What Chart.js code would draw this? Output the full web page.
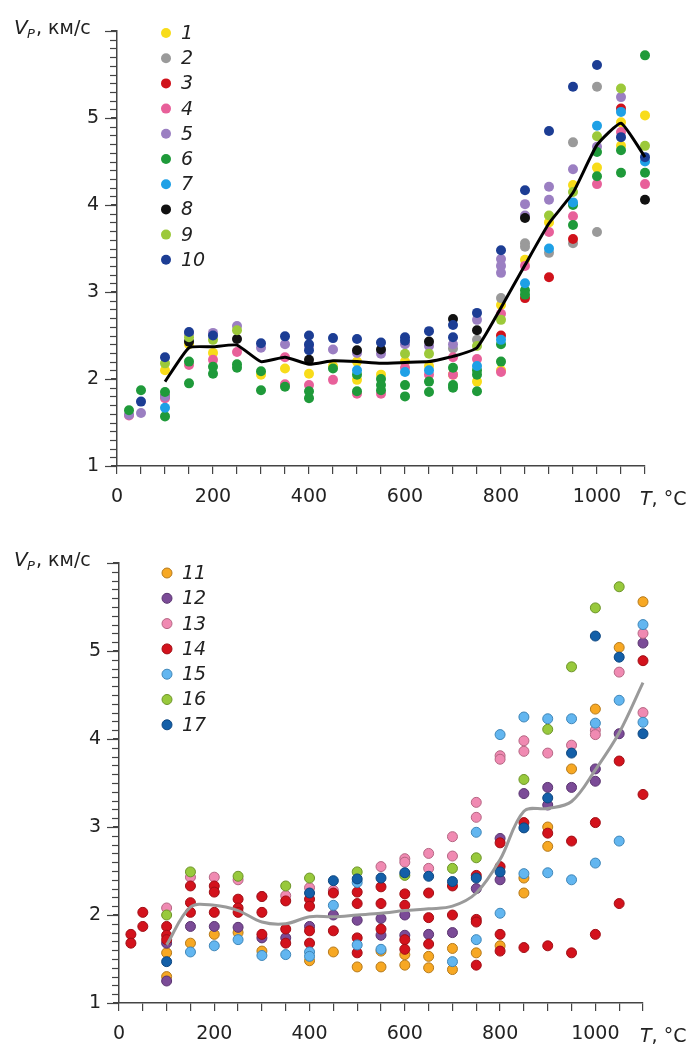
<!DOCTYPE html>
<html><head><meta charset="utf-8">
<script src="https://cdn.jsdelivr.net/npm/chart.js@4.4.0/dist/chart.umd.min.js"></script>
<style>html,body{margin:0;padding:0;background:#fff;}canvas{position:absolute;left:0;display:block;}</style>
</head><body>
<canvas id="c1" width="695" height="524" style="top:0"></canvas>
<canvas id="c2" width="695" height="524" style="top:524px"></canvas>
<script>
// ---------- DATA: top panel (samples 1–10), points are [T °C, Vp km/s] ----------
const S1 = [[100,2.10],[150,2.40],[200,2.30],[300,2.05],[350,2.12],[400,2.06],[450,2.15],[500,1.99],[500,2.20],[550,2.05],[600,2.20],[650,2.15],[700,2.05],[750,1.97],[800,2.10],[800,2.85],[850,3.37],[900,3.80],[950,4.23],[1000,4.43],[1050,4.68],[1050,4.95],[1100,5.03]];
const S2 = [[700,2.35],[750,2.45],[800,2.93],[850,3.56],[850,3.52],[900,3.45],[950,4.72],[950,3.56],[1000,5.36],[1000,3.69]];
const S3 = [[100,1.80],[800,2.50],[850,2.93],[900,3.17],[950,3.61],[1050,5.11]];
const S4 = [[25,1.58],[100,1.78],[150,2.16],[200,2.22],[250,2.31],[350,1.94],[350,2.25],[400,1.93],[450,1.99],[500,1.83],[550,1.83],[600,2.13],[650,2.05],[700,2.25],[700,2.05],[750,2.23],[800,2.08],[800,2.75],[850,3.30],[900,3.69],[950,3.87],[1000,4.24],[1050,4.84],[1100,4.24]];
const S5 = [[25,1.59],[50,1.61],[100,1.80],[150,2.52],[200,2.53],[250,2.61],[300,2.36],[350,2.40],[400,2.38],[450,2.34],[500,2.30],[550,2.29],[600,2.40],[650,2.38],[700,2.40],[750,2.68],[800,3.38],[800,3.30],[800,3.22],[850,4.01],[850,3.88],[900,4.21],[900,4.06],[950,4.41],[1000,4.67],[1050,5.24]];
const S6 = [[25,1.64],[50,1.87],[100,1.85],[100,1.57],[150,2.20],[150,1.95],[200,2.14],[200,2.06],[250,2.17],[250,2.13],[300,2.09],[300,1.87],[350,1.91],[400,1.86],[400,1.78],[450,2.12],[500,2.05],[500,1.86],[550,2.00],[550,1.93],[550,1.87],[600,1.93],[600,1.80],[650,1.97],[650,1.85],[700,2.13],[700,1.93],[700,1.90],[750,2.10],[750,2.05],[750,1.86],[800,2.40],[800,2.20],[850,3.02],[850,2.97],[950,4.00],[950,3.77],[1000,4.61],[1000,4.33],[1050,4.63],[1050,4.37],[1100,5.72],[1100,4.37]];
const S7 = [[100,1.67],[500,2.10],[600,2.08],[650,2.10],[750,2.15],[800,2.45],[850,3.10],[900,3.50],[950,4.03],[1000,4.91],[1050,5.07],[1100,4.50]];
const S8 = [[150,2.43],[250,2.46],[400,2.22],[500,2.33],[550,2.34],[650,2.43],[700,2.69],[750,2.56],[850,3.85],[1100,4.06]];
const S9 = [[100,2.18],[150,2.48],[200,2.45],[250,2.56],[600,2.29],[650,2.29],[750,2.38],[800,2.68],[900,3.88],[950,4.15],[1000,4.79],[1050,5.34],[1100,4.68]];
const S10 = [[50,1.74],[100,2.25],[150,2.54],[200,2.50],[300,2.41],[350,2.49],[400,2.50],[400,2.40],[400,2.33],[450,2.47],[500,2.46],[550,2.42],[600,2.48],[600,2.44],[650,2.55],[700,2.62],[700,2.48],[750,2.76],[800,3.48],[850,4.17],[900,4.85],[950,5.36],[1000,5.61],[1050,4.78],[1100,4.55]];
const AVG1_T = [100,150,200,250,300,350,400,450,500,550,600,650,700,750,800,850,900,950,1000,1050,1100];
const AVG1_V = [1.97,2.36,2.37,2.39,2.20,2.25,2.17,2.21,2.20,2.18,2.19,2.20,2.26,2.36,2.82,3.31,3.79,4.14,4.69,4.94,4.55];
const LABELS1 = ['1','2','3','4','5','6','7','8','9','10'];

// ---------- DATA: bottom panel (samples 11–17) ----------
const S11 = [[100,1.57],[100,1.30],[150,1.68],[200,1.78],[250,1.80],[300,1.59],[400,1.48],[450,1.58],[500,1.41],[550,1.59],[550,1.41],[600,1.55],[600,1.43],[650,1.53],[650,1.40],[700,1.62],[700,1.38],[750,1.57],[800,1.65],[850,2.42],[850,2.25],[900,3.00],[900,2.78],[950,3.66],[1000,4.34],[1050,5.04],[1100,5.56]];
const S12 = [[100,1.68],[100,1.25],[150,1.87],[200,1.87],[250,1.86],[300,1.74],[350,1.74],[400,1.87],[450,2.00],[500,1.94],[550,1.96],[550,1.77],[600,2.00],[600,1.77],[650,1.78],[700,1.80],[750,2.30],[800,2.87],[800,2.40],[850,3.38],[900,3.45],[900,3.25],[950,3.45],[1000,3.66],[1000,3.52],[1050,4.06],[1100,5.09]];
const S13 = [[100,2.08],[150,2.43],[200,2.43],[250,2.40],[300,2.21],[350,2.22],[400,2.31],[450,2.28],[550,2.55],[600,2.64],[600,2.60],[650,2.70],[650,2.53],[700,2.89],[700,2.67],[750,3.28],[750,3.11],[800,3.81],[800,3.77],[850,3.98],[850,3.86],[900,3.84],[950,3.93],[1000,4.10],[1000,4.05],[1050,4.76],[1100,5.20],[1100,4.30]];
const S14 = [[25,1.78],[25,1.68],[50,2.03],[50,1.87],[100,1.87],[100,1.77],[100,1.72],[150,2.33],[150,2.14],[150,2.03],[200,2.33],[200,2.26],[200,2.03],[250,2.18],[250,2.08],[250,2.03],[300,2.21],[300,2.03],[300,1.78],[350,2.16],[350,1.84],[350,1.68],[400,2.18],[400,2.10],[400,1.82],[400,1.68],[450,2.25],[450,1.82],[500,2.26],[500,2.13],[500,1.74],[500,1.57],[550,2.32],[550,2.13],[550,1.84],[600,2.24],[600,2.11],[600,1.72],[600,1.61],[650,2.25],[650,1.97],[650,1.67],[700,2.33],[700,2.00],[750,2.45],[750,1.95],[750,1.92],[750,1.43],[800,2.82],[800,2.55],[800,1.78],[800,1.59],[850,3.05],[850,1.63],[900,2.93],[900,1.65],[950,2.84],[950,1.57],[1000,3.05],[1000,1.78],[1050,3.75],[1050,2.13],[1100,4.89],[1100,3.37]];
const S15 = [[150,1.58],[200,1.65],[250,1.72],[300,1.54],[350,1.55],[400,1.58],[400,1.53],[450,2.11],[500,2.37],[500,1.66],[550,1.61],[700,1.47],[750,2.94],[750,1.72],[800,4.05],[800,2.02],[850,4.25],[850,2.47],[900,4.23],[900,2.48],[950,4.23],[950,2.40],[1000,4.18],[1000,2.59],[1050,4.44],[1050,2.84],[1100,5.30],[1100,4.19]];
const S16 = [[100,2.00],[150,2.49],[250,2.44],[350,2.33],[400,2.42],[500,2.49],[600,2.45],[700,2.53],[750,2.65],[850,3.54],[900,4.11],[950,4.82],[1000,5.49],[1050,5.73]];
const S17 = [[100,1.47],[400,2.25],[450,2.39],[500,2.41],[550,2.42],[600,2.48],[650,2.44],[700,2.38],[750,2.42],[800,2.49],[850,2.99],[900,3.33],[950,3.84],[1000,5.17],[1050,4.93],[1100,4.06]];
const AVG2_T = [100,150,200,250,300,350,400,450,500,550,600,650,700,750,800,850,900,950,1000,1050,1100];
const AVG2_V = [1.66,2.09,2.11,2.05,1.92,1.90,1.98,1.98,2.00,2.02,2.05,2.07,2.10,2.25,2.63,3.18,3.21,3.29,3.65,4.07,4.64];
const LABELS2 = ['11','12','13','14','15','16','17'];

const X_TICKS_LABELED = [0,200,400,600,800,1000];
const Y_TICKS_LABELED = [1,2,3,4,5];
const Y_MINOR_STEP = 0.1;

// ---------- STYLE ----------
const FONT = '"DejaVu Sans", "Liberation Sans", sans-serif';
const AXIS = '#444';
const TEXT = '#222';
const COLORS1 = ['#f8dc1a','#9a9a9a','#d0121b','#e8609a','#9b7fc2','#1f9a3a','#1ea0e6','#111111','#9cc93a','#1c3d94'];
const COLORS2 = ['#f7a823','#7b4b97','#f08ab2','#d3121c','#62b6f0','#98c93c','#135fa8'];
const BORDERS2 = ['#b57a1c','#5a3470','#b56683','#a00e15','#3f86b8','#6d9429','#0d4680'];

const decor = {
  id: 'decor',
  afterDraw(chart, args, o) {
    const ctx = chart.ctx, xs = chart.scales.x, ys = chart.scales.y;
    ctx.save();
    ctx.strokeStyle = AXIS; ctx.lineWidth = 1.2;
    // minor and major ticks on the V axis, positioned by the y scale
    const n = Math.round((ys.max - ys.min) / Y_MINOR_STEP);
    for (let k = 0; k <= n; k++) {
      const v = ys.min + k * Y_MINOR_STEP;
      const py = Math.round(ys.getPixelForValue(v)) + 0.5;
      const len = (k % 10 === 0) ? 12 : 7;
      ctx.beginPath(); ctx.moveTo(xs.left - len, py); ctx.lineTo(xs.left, py); ctx.stroke();
    }
    ctx.fillStyle = TEXT; ctx.textAlign = 'left'; ctx.textBaseline = 'alphabetic';
    ctx.font = 'italic 20px ' + FONT; ctx.fillText('V', o.ytx, o.yty);
    ctx.font = 'italic 13px ' + FONT; ctx.fillText('P', o.ytx + 13, o.yty + 4);
    ctx.font = '19px ' + FONT; ctx.fillText(', км/с', o.ytx + 22, o.yty);
    ctx.font = 'italic 19px ' + FONT; ctx.fillText('T', o.xtx, o.xty);
    const w = ctx.measureText('T').width;
    ctx.font = '19px ' + FONT; ctx.fillText(', °C', o.xtx + w, o.xty);
    const ds = chart.data.datasets.filter(d => d.isSample);
    ds.forEach((d, i) => {
      const cy = o.legY + i * o.legStep;
      ctx.beginPath(); ctx.arc(o.legX, cy, 5, 0, Math.PI * 2);
      ctx.fillStyle = d.backgroundColor; ctx.fill();
      if (d.borderWidth) { ctx.lineWidth = 1; ctx.strokeStyle = d.borderColor; ctx.stroke(); }
      ctx.fillStyle = TEXT; ctx.font = 'italic 19px ' + FONT; ctx.textBaseline = 'middle';
      ctx.fillText(d.label, o.legX + 15, cy + 1);
    });
    ctx.restore();
  }
};

function makeChart(id, series, labels, colors, borders, avgT, avgV, lineColor, g) {
  const datasets = [{
    type: 'line', label: 'avg', data: avgT.map((t, i) => ({x: t, y: avgV[i]})),
    borderColor: lineColor, borderWidth: 3, pointRadius: 0, showLine: true,
    tension: g.tension, order: 0, clip: false, fill: false
  }];
  series.forEach((s, i) => datasets.push({
    isSample: true, label: labels[i], data: s.map(p => ({x: p[0], y: p[1]})),
    backgroundColor: colors[i], borderColor: borders ? borders[i] : colors[i],
    borderWidth: borders ? 1 : 0, pointRadius: 5, pointHoverRadius: 5,
    showLine: false, order: 30 - i, clip: false
  }));
  return new Chart(document.getElementById(id), {
    type: 'scatter',
    data: {datasets},
    plugins: [decor],
    options: {
      responsive: false, animation: false, devicePixelRatio: 1,
      layout: {padding: {top: g.top, right: g.right, left: 0, bottom: 0}},
      plugins: {legend: {display: false}, tooltip: {enabled: false}, decor: g.decor},
      scales: {
        x: {
          type: 'linear', min: 0, max: 1100, position: 'bottom',
          afterFit: s => { s.height = g.xh; },
          ticks: {stepSize: 50, autoSkip: false, maxRotation: 0, padding: 12, color: TEXT,
            font: {family: FONT, size: 19},
            callback: v => X_TICKS_LABELED.includes(Math.round(v)) ? String(Math.round(v)) : ''},
          grid: {drawOnChartArea: false, drawTicks: true, tickLength: 8, color: AXIS, lineWidth: 1.2},
          border: {display: true, color: AXIS, width: 1.5}
        },
        y: {
          type: 'linear', min: 1, max: 6,
          afterFit: s => { s.width = g.yw; },
          ticks: {stepSize: 1, autoSkip: false, padding: 12, color: TEXT,
            font: {family: FONT, size: 19},
            callback: v => Y_TICKS_LABELED.includes(Math.round(v)) ? String(Math.round(v)) : ''},
          grid: {drawOnChartArea: false, drawTicks: true, tickLength: 6, color: AXIS, lineWidth: 1.2},
          border: {display: true, color: AXIS, width: 1.5}
        }
      }
    }
  });
}

makeChart('c1', [S1,S2,S3,S4,S5,S6,S7,S8,S9,S10], LABELS1, COLORS1, null, AVG1_T, AVG1_V, '#000000',
  {top: 31, right: 50, yw: 117, xh: 58, tension: 0.15,
   decor: {ytx: 14, yty: 34, xtx: 640, xty: 505, legX: 166, legY: 33, legStep: 25.2}});
makeChart('c2', [S11,S12,S13,S14,S15,S16,S17], LABELS2, COLORS2, BORDERS2, AVG2_T, AVG2_V, '#9a9a9a',
  {top: 39, right: 52, yw: 119, xh: 45, tension: 0.35,
   decor: {ytx: 14, yty: 42, xtx: 640, xty: 518, legX: 167, legY: 49, legStep: 25.3}});
</script>
</body></html>
